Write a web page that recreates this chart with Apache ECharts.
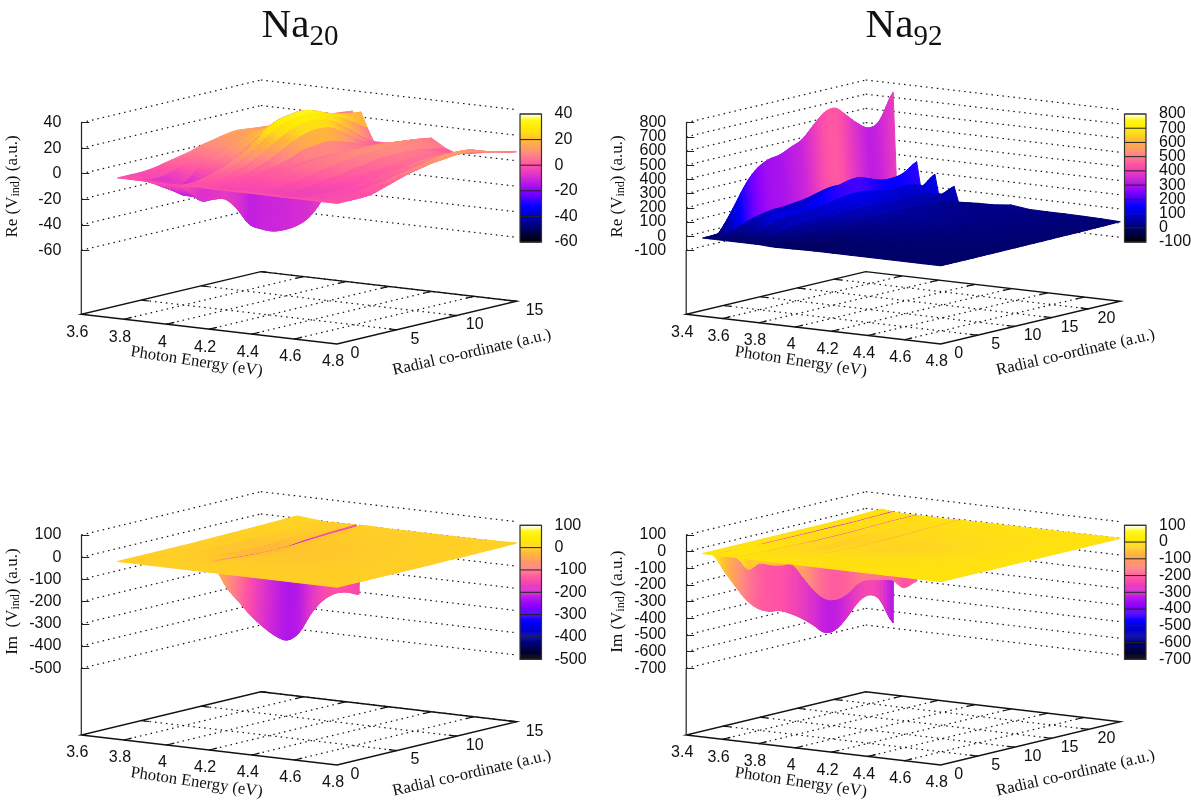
<!DOCTYPE html>
<html><head><meta charset="utf-8">
<style>html,body{margin:0;padding:0;background:#fff}#c{width:1191px;height:800px}</style>
<script src="https://cdn.jsdelivr.net/npm/echarts@6/dist/echarts.min.js"></script>
</head><body><div id="c"></div>
<script>
// ---- values ----
const r20 = [0,1,2,3,4,5,6,7,8,9,10,11,12,13,14,15];
const r92 = [0,1.5,3,4.5,6,7.5,9,10.5,12,13.5,15,16.5,18,19.5,21,22.5,24.3];

const reNa20E = [3.77,3.85,3.92,3.98,4.03,4.05,4.07,4.10,4.13,4.16,4.19,4.22,4.28,4.34,4.40,4.47,4.52,4.6,4.7,4.8];
const reNa20Z = [
 [0,0,0,1,3,5,7,10,12,14,15,14,13,12,11,10],
 [0,-2,-3,-1,2,4,7,9,12,14,15,15,14,13,12,12],
 [0,-6,-10,-7,1,5,9,13,16,19,20,20,18,16,15,14],
 [0,-8,-14,-10,-1,6,11,16,20,24,26,26,24,22,21,20],
 [0,-8,-14,-9,0,7,13,19,24,28,30,30,28,26,25,24],
 [0,-8,-17,-18,-20,-30,-44,-50,-54,-55,-54,-50,-40,-25,-12,-5],
 [0,0,2,5,9,14,20,28,33,35,36,34,30,27,25,24],
 [0,0,2,4,8,13,19,26,31,33,34,32,28,24,18,12],
 [0,0,1,3,6,10,15,21,26,29,30,28,23,16,8,2],
 [0,-1,0,1,3,6,10,15,20,23,24,22,16,9,4,2],
 [0,-1,0,0,1,3,5,8,12,13,14,12,9,5,3,2],
 [0,-2,-1,0,1,2,3,4,5,5,5,5,5,4,3,3],
 [0,-2,-1,0,2,3,5,6,7,8,8,8,8,7,6,5],
 [0,-2,-1,0,2,4,6,8,9,10,11,11,11,10,9,8],
 [0,-2,-2,0,1,3,5,7,8,9,10,11,11,11,11,10],
 [0,-2,-3,-2,-1,1,2,4,5,7,8,8,8,7,5,3],
 [0,-3,-3,-3,-2,-1,0,1,2,3,4,5,5,4,2,0],
 [0,-2,-2,-2,-2,-1,0,1,2,3,5,6,6,6,4,3],
 [0,-1,-1,-1,0,1,3,5,7,9,11,12,12,11,7,5],
 [0,0,0,1,4,7,10,12,14,15,16,16,14,11,9,7]
];

const imNa20E = [3.77,3.9,3.98,4.048,4.06,4.072,4.12,4.2,4.3,4.4,4.5,4.6,4.7,4.8];
const imNa20Z = [
 [0,0,0,0,0,0,0,1,2,3,4,5,6,7,9,10],
 [0,0,0,-1,-2,-2,-3,-3,-3,-3,-2,-1,0,0,-1,-2],
 [0,0,-1,-3,-6,-10,-14,-16,-18,-16,-10,-6,-4,-2,-1,0],
 [0,0,-2,-6,-10,-15,-20,-24,-26,-24,-18,-12,-8,-4,-2,1],
 [0,-1,-5,-40,-140,-215,-290,-352,-405,-438,-418,-345,-298,-280,-287,-310],
 [0,0,-2,-5,-8,-12,-15,-16,-16,-15,-12,-9,-6,-4,-2,2],
 [0,0,-1,-3,-5,-8,-10,-12,-12,-10,-8,-6,-4,-2,0,2],
 [0,0,0,-1,-2,-3,-4,-5,-5,-4,-3,-2,-1,0,0,0],
 [0,0,-1,-2,-4,-6,-8,-8,-7,-6,-5,-4,-3,-2,-1,0],
 [0,0,0,-1,-2,-3,-4,-4,-3,-3,-2,-2,-1,-1,0,0],
 [0,0,0,0,-1,-1,-2,-2,-2,-1,-1,-1,0,0,0,0],
 [0,0,0,0,0,-1,-1,-1,-1,-1,0,0,0,0,0,0],
 [0,0,0,0,0,0,0,0,0,0,0,1,1,1,1,2],
 [0,0,0,0,0,0,0,0,0,1,1,1,2,2,3,4]
];

const reNa92E = [3.49,3.53,3.55,3.57,3.62,3.66,3.68,3.70,3.76,3.78,3.80,3.86,3.886,3.91,3.98,4.02,4.1,4.2,4.3,4.4,4.5,4.6,4.7,4.8];
const reNa92Z = [
 [0,2,4,6,8,8,8,8,8,8,8,8,8,8,8,8,8],
 [0,20,50,85,105,115,120,130,140,160,175,180,160,145,130,140,180],
 [0,90,215,345,430,470,484,520,555,635,708,720,650,575,525,560,735],
 [0,20,55,85,105,118,120,130,140,160,178,180,165,145,130,140,60],
 [0,10,30,50,60,65,65,70,75,85,95,100,90,80,75,80,40],
 [0,10,40,70,80,80,80,90,100,115,125,125,115,100,100,105,90],
 [0,25,90,135,142,135,138,170,205,225,245,250,222,195,190,207,265],
 [0,15,50,85,100,100,100,115,130,145,155,155,140,125,120,125,105],
 [0,5,20,40,50,60,65,75,85,95,100,100,90,85,80,85,70],
 [0,10,30,45,55,65,80,100,112,125,132,130,115,108,110,125,192],
 [0,5,20,30,40,50,60,70,80,88,92,90,82,78,78,80,60],
 [-5,-5,5,18,25,32,40,48,55,62,65,65,60,58,58,60,50],
 [-5,-8,5,20,30,40,50,60,70,78,82,80,75,72,75,85,122],
 [-5,-8,0,10,18,25,32,40,48,52,55,55,50,48,45,40,15],
 [-3,-15,-5,5,12,18,24,28,34,38,40,40,38,34,30,26,20],
 [-2,-15,-10,0,8,15,22,28,35,42,45,45,40,36,32,28,23],
 [0,-5,0,5,10,15,20,25,30,32,35,35,32,30,28,26,25],
 [0,-5,-2,3,8,12,16,20,22,25,28,30,30,28,30,34,38],
 [0,-3,0,3,6,10,14,16,18,20,22,24,25,26,26,24,22],
 [0,-2,0,2,5,8,10,12,14,16,18,20,22,24,24,22,20],
 [0,-1,0,2,4,6,8,10,12,13,14,15,17,18,20,20,20],
 [0,0,0,1,3,4,6,8,9,10,11,12,13,14,16,17,18],
 [0,0,0,1,2,3,4,5,6,7,8,9,10,11,12,14,15],
 [0,0,0,0,1,1,2,2,3,3,4,5,5,6,7,8,10]
];

const imNa92E = [3.49,3.545,3.55,3.555,3.60,3.675,3.68,3.685,3.75,3.83,3.915,3.92,3.925,4.0,4.1,4.2,4.3,4.4,4.5,4.6,4.7,4.8];
const imNa92Z = [
 [0,0,0,0,0,0,0,0,0,0,0,0,1,2,4,6,8],
 [0,-2,-4,-6,-8,-8,-8,-8,-8,-8,-8,-8,-8,-8,-6,-4,-2],
 [-5,-115,-222,-320,-385,-418,-430,-465,-510,-565,-625,-625,-570,-495,-465,-510,-667],
 [0,-2,-4,-6,-8,-8,-8,-8,-8,-8,-8,-8,-8,-8,-6,-4,-2],
 [0,12,20,15,5,-3,-5,-8,-10,-10,-10,-10,-8,-6,-5,-5,-5],
 [0,-2,-4,-8,-8,-10,-12,-14,-14,-14,-14,-12,-10,-8,-6,-6,-6],
 [-3,-85,-64,-90,-108,-120,-215,-310,-375,-392,-372,-325,-322,-340,-358,-420,-400],
 [0,-2,-4,-8,-8,-10,-12,-14,-14,-14,-14,-12,-10,-8,-6,-6,-6],
 [0,-3,-8,-15,-22,-28,-30,-30,-28,-25,-22,-20,-15,-12,-10,-8,-6],
 [0,-2,-6,-12,-18,-24,-28,-30,-34,-36,-34,-30,-26,-22,-18,-12,-8],
 [0,-2,-4,-8,-10,-12,-14,-15,-15,-15,-15,-14,-12,-10,-8,-6,-4],
 [0,-3,-20,-40,-60,-80,-90,-100,-110,-130,-145,-150,-150,-145,-140,-130,-120],
 [0,-2,-4,-8,-10,-12,-14,-15,-15,-15,-15,-14,-12,-10,-8,-6,-4],
 [0,-2,-6,-10,-16,-22,-26,-30,-32,-30,-28,-24,-20,-16,-12,-8,-4],
 [0,-1,-4,-8,-12,-16,-20,-24,-26,-24,-22,-18,-14,-12,-8,-5,-3],
 [0,-1,-3,-6,-10,-14,-18,-22,-24,-26,-24,-20,-18,-14,-10,-6,-3],
 [0,0,-2,-4,-6,-10,-14,-18,-20,-20,-18,-16,-14,-10,-8,-5,-2],
 [0,0,-1,-3,-5,-8,-10,-12,-14,-16,-16,-14,-12,-10,-6,-4,-2],
 [0,0,-1,-2,-4,-5,-6,-8,-10,-10,-10,-8,-8,-6,-4,-3,-1],
 [0,0,0,-1,-2,-3,-4,-4,-5,-6,-6,-5,-4,-4,-3,-2,-1],
 [0,0,0,0,-1,-1,-2,-2,-2,-3,-3,-2,-2,-2,-1,-1,0],
 [0,0,0,0,0,0,0,0,0,0,0,0,0,0,0,0,0]
];

const energyTicksNa20 = [3.6,3.8,4,4.2,4.4,4.6,4.8];
const energyTicksNa92 = [3.4,3.6,3.8,4,4.2,4.4,4.6,4.8];
const radialTicksNa20 = [0,5,10,15];
const radialTicksNa92 = [0,5,10,15,20];

// ---- palette and layout ----
const paletteStops = [[0,[0,0,0]],[.1,[0,0,95]],[.2,[0,0,190]],[.28,[0,0,255]],[.4,[138,0,255]],[.5,[208,40,216]],
  [.6,[255,80,168]],[.7,[255,140,128]],[.8,[255,185,55]],[.85,[255,218,30]],[.9,[255,235,0]],[.96,[255,248,30]],[1,[255,255,255]]];
function palette(g){
  g=Math.max(0,Math.min(1,g));
  for(let i=1;i<paletteStops.length;i++){
    if(g<=paletteStops[i][0]){
      const a=paletteStops[i-1],b=paletteStops[i],t=(g-a[0])/(b[0]-a[0]);
      return 'rgb('+a[1].map((v,k)=>Math.round(v+(b[1][k]-v)*t)).join(',')+')';
    }
  }
  return '#fff';
}
const panels = [
 {E:reNa20E,R:r20,Z:reNa20Z,eMin:3.6,eMax:4.8,rMax:15,zMin:-60,zMax:40,zStep:20,eTicks:energyTicksNa20,rTicks:radialTicksNa20,
  L:[81.3,314.3],F:[337,344],Rr:[516.6,301.3],zTop:122.7,zBot:250.3,cb:[520,114,21.5,128],part:'Re ('},
 {E:reNa92E,R:r92,Z:reNa92Z,eMin:3.4,eMax:4.8,rMax:24.3,zMin:-100,zMax:800,zStep:100,eTicks:energyTicksNa92,rTicks:radialTicksNa92,
  L:[686.2,314.3],F:[940.7,344],Rr:[1120.3,301.3],zTop:122.7,zBot:250.3,cb:[1124.5,114,21.5,128],part:'Re ('},
 {E:imNa20E,R:r20,Z:imNa20Z,eMin:3.6,eMax:4.8,rMax:15,zMin:-500,zMax:100,zStep:100,eTicks:energyTicksNa20,rTicks:radialTicksNa20,
  L:[81.3,735],F:[337,765],Rr:[516.6,721.7],zTop:535,zBot:668.3,cb:[520,525.3,21.5,134],part:'Im  ('},
 {E:imNa92E,R:r92,Z:imNa92Z,eMin:3.4,eMax:4.8,rMax:24.3,zMin:-700,zMax:100,zStep:100,eTicks:energyTicksNa92,rTicks:radialTicksNa92,
  L:[686.2,735],F:[940.7,765],Rr:[1120.3,721.7],zTop:535,zBot:668.3,cb:[1124.5,525.3,21.5,134],part:'Im ('}
];
const SUB = 4;
function smoothRow(row){
  const out=[];
  for(let i=0;i<row.length-1;i++){
    const p0=row[Math.max(0,i-1)],p1=row[i],p2=row[i+1],p3=row[Math.min(row.length-1,i+2)];
    for(let s=0;s<SUB;s++){
      const t=s/SUB,t2=t*t,t3=t2*t;
      out.push(.5*(2*p1+(p2-p0)*t+(2*p0-5*p1+4*p2-p3)*t2+(3*p1-p0-3*p2+p3)*t3));
    }
  }
  out.push(row[row.length-1]);
  return out;
}
function smoothR(R){
  const out=[];
  for(let i=0;i<R.length-1;i++) for(let s=0;s<SUB;s++) out.push(R[i]+(R[i+1]-R[i])*s/SUB);
  out.push(R[R.length-1]);
  return out;
}
const FONT_TICK='16px "Liberation Sans", Arial, sans-serif';
const FONT_TITLE='16.6px "Liberation Serif", "Times New Roman", serif';

function makeProjector(p){
  const W=p.Rr[0]-p.L[0], H=p.zBot-p.zTop, k=(p.zMax-p.zMin)/H;
  const baseZ=p.zMin-(p.L[1]-p.zBot)*k;
  const proj=(E,r,z)=>{
    const e=(E-p.eMin)/(p.eMax-p.eMin), f=r/p.rMax;
    const dx=e*(p.F[0]-p.L[0])+f*(p.Rr[0]-p.F[0]);
    const dy=e*(p.F[1]-p.L[1])+f*(p.Rr[1]-p.F[1]);
    return [dx/W, z-dy*k];
  };
  return {proj,baseZ};
}

const grid=[],xAxis=[],yAxis=[],series=[];
panels.forEach((p,i)=>{
  const W=p.Rr[0]-p.L[0], H=p.zBot-p.zTop;
  const {proj,baseZ}=makeProjector(p);
  grid.push({left:p.L[0],top:p.zTop,width:W,height:H});
  xAxis.push({gridIndex:2*i,type:'value',min:0,max:1,show:false});
  yAxis.push({gridIndex:2*i,type:'value',min:p.zMin,max:p.zMax,interval:p.zStep,z:6,
    name:'{a|'+p.part+'V}{b|ind}{a|) (a.u.)}',nameLocation:'middle',nameRotate:90,nameGap:59,
    nameTextStyle:{rich:{a:{fontFamily:'Liberation Serif',fontSize:17,color:'#111',lineHeight:20},
      b:{fontFamily:'Liberation Serif',fontSize:12,color:'#111',lineHeight:20,verticalAlign:'bottom'}}},
    axisLine:{show:true,lineStyle:{color:'#222',width:1.2}},
    axisTick:{show:true,inside:true,length:8,lineStyle:{color:'#222',width:1}},
    axisLabel:{show:false},
    splitLine:{show:false}});
  grid.push({left:p.cb[0],top:p.cb[1],width:p.cb[2],height:p.cb[3]});
  xAxis.push({gridIndex:2*i+1,type:'value',min:0,max:1,show:false});
  yAxis.push({gridIndex:2*i+1,type:'value',min:p.zMin,max:p.zMax,interval:p.zStep,position:'right',
    axisLine:{show:false},axisTick:{show:false},axisLabel:{show:false},splitLine:{show:false}});

  series.push({type:'custom',xAxisIndex:2*i,yAxisIndex:2*i,silent:true,z:1,clip:false,data:[0],
    renderItem:(params,api)=>{
      const c=(E,r,z)=>api.coord(proj(E,r,z));
      const kids=[];
      const line=(a,b,style)=>kids.push({type:'line',shape:{x1:a[0],y1:a[1],x2:b[0],y2:b[1]},style});
      const dot={stroke:'#111',lineWidth:1.2,lineDash:[1.5,4]};
      const tick={stroke:'#111',lineWidth:1.2};
      for(let z=p.zMin;z<=p.zMax+1e-6;z+=p.zStep){
        const a=c(p.eMin,0,z),b=c(p.eMin,p.rMax,z),d=c(p.eMax,p.rMax,z);
        line(a,b,dot); line(b,d,dot);
        kids.push({type:'text',x:a[0]-20,y:a[1],style:{text:String(Math.round(z)),font:FONT_TICK,fill:'#111',align:'right',verticalAlign:'middle'}});
      }
      p.eTicks.forEach(E=>{
        const a=c(E,0,baseZ),b=c(E,p.rMax,baseZ);
        if(E>p.eMin&&E<p.eMax){
          line(a,b,dot);
          const n=8/Math.hypot(b[0]-a[0],b[1]-a[1]);
          line(a,[a[0]+(b[0]-a[0])*n,a[1]+(b[1]-a[1])*n],tick);
          line(b,[b[0]+(a[0]-b[0])*n,b[1]+(a[1]-b[1])*n],tick);
        }
        kids.push({type:'text',x:a[0]-4,y:a[1]+18,style:{text:String(E),font:FONT_TICK,fill:'#111',align:'center',verticalAlign:'middle'}});
      });
      p.rTicks.forEach(r=>{
        const a=c(p.eMax,r,baseZ),b=c(p.eMin,r,baseZ);
        if(r>0){
          line(a,b,dot);
          const n=8/Math.hypot(b[0]-a[0],b[1]-a[1]);
          line(a,[a[0]+(b[0]-a[0])*n,a[1]+(b[1]-a[1])*n],tick);
          line(b,[b[0]+(a[0]-b[0])*n,b[1]+(a[1]-b[1])*n],tick);
        }
        kids.push({type:'text',x:a[0]+18,y:a[1]+9.5,style:{text:String(r),font:FONT_TICK,fill:'#111',align:'center',verticalAlign:'middle'}});
      });
      const L=c(p.eMin,0,baseZ),F=c(p.eMax,0,baseZ),Rc=c(p.eMax,p.rMax,baseZ),B=c(p.eMin,p.rMax,baseZ);
      kids.push({type:'polygon',shape:{points:[L,F,Rc,B]},style:{fill:'none',stroke:'#111',lineWidth:1.4}});
      line(c(p.eMin,0,p.zMin),L,{stroke:'#222',lineWidth:1.2});
      const mid=(a,b)=>[(a[0]+b[0])/2,(a[1]+b[1])/2];
      const m1=mid(L,F),m2=mid(F,Rc);
      kids.push({type:'text',x:m1[0]-12.6,y:m1[1]+32.5,rotation:-8.5*Math.PI/180,
        style:{text:'Photon Energy (eV)',font:FONT_TITLE,fill:'#111',align:'center',verticalAlign:'middle'}});
      kids.push({type:'text',x:m2[0]+45,y:m2[1]+30,rotation:12.9*Math.PI/180,
        style:{text:'Radial co-ordinate (a.u.)',font:FONT_TITLE,fill:'#111',align:'center',verticalAlign:'middle'}});
      return {type:'group',children:kids};
    }});

  const fineR=smoothR(p.R), fineZ=p.Z.map(smoothRow);
  const strips=p.E.slice(0,-1).map((_,j)=>j);
  series.push({type:'custom',xAxisIndex:2*i,yAxisIndex:2*i,silent:true,z:3,clip:false,progressive:0,animation:false,data:strips,
    renderItem:(params,api)=>{
      const j=params.dataIndex;
      const E0=p.E[j],E1=p.E[j+1],z0=fineZ[j],z1=fineZ[j+1];
      const kids=[];
      for(let k=fineR.length-2;k>=0;k--){
        const mean=(z0[k]+z0[k+1]+z1[k]+z1[k+1])/4;
        const col=palette((mean-p.zMin)/(p.zMax-p.zMin));
        kids.push({type:'polygon',shape:{points:[
          api.coord(proj(E0,fineR[k],z0[k])),api.coord(proj(E0,fineR[k+1],z0[k+1])),
          api.coord(proj(E1,fineR[k+1],z1[k+1])),api.coord(proj(E1,fineR[k],z1[k]))]},
          style:{fill:col,stroke:col,lineWidth:1}});
      }
      return {type:'group',children:kids};
    }});

  series.push({type:'custom',xAxisIndex:2*i+1,yAxisIndex:2*i+1,silent:true,z:2,clip:false,data:[0],
    renderItem:(params,api)=>{
      const kids=[],n=128;
      for(let s=0;s<n;s++){
        const a=p.zMin+(p.zMax-p.zMin)*s/n,b=p.zMin+(p.zMax-p.zMin)*(s+1)/n;
        const p0=api.coord([0,a]),p1=api.coord([1,b]);
        const col=palette((s+.5)/n);
        kids.push({type:'rect',shape:{x:p0[0],y:p1[1],width:p1[0]-p0[0],height:p0[1]-p1[1]+.5},style:{fill:col}});
      }
      for(let z=p.zMin;z<=p.zMax+1e-6;z+=p.zStep){
        const a=api.coord([0,z]),b=api.coord([1,z]);
        kids.push({type:'line',shape:{x1:a[0],y1:a[1],x2:b[0],y2:b[1]},style:{stroke:'#222',lineWidth:1}});
        kids.push({type:'text',x:b[0]+13,y:b[1],style:{text:String(Math.round(z)),font:FONT_TICK,fill:'#111',align:'left',verticalAlign:'middle'}});
      }
      const t=api.coord([0,p.zMax]),u=api.coord([1,p.zMin]);
      kids.push({type:'rect',shape:{x:t[0],y:t[1],width:u[0]-t[0],height:u[1]-t[1]},style:{fill:'none',stroke:'#333',lineWidth:1.2}});
      return {type:'group',children:kids};
    }});
});

const richTitle={n:{fontFamily:'Liberation Serif',fontSize:41,fontWeight:'normal',color:'#111',lineHeight:46,verticalAlign:'top'},
                 s:{fontFamily:'Liberation Serif',fontSize:29,fontWeight:'normal',color:'#111',lineHeight:46,verticalAlign:'bottom'}};
const chart=echarts.init(document.getElementById('c'),null,{renderer:'canvas',width:1191,height:800});
chart.setOption({
  animation:false,backgroundColor:'#fff',
  title:[
    {text:'{n|Na}{s|20}',left:295,top:1,textAlign:'center',textStyle:{fontWeight:'normal',rich:richTitle}},
    {text:'{n|Na}{s|92}',left:899,top:1,textAlign:'center',textStyle:{fontWeight:'normal',rich:richTitle}}
  ],
  grid,xAxis,yAxis,series
});
</script></body></html>
